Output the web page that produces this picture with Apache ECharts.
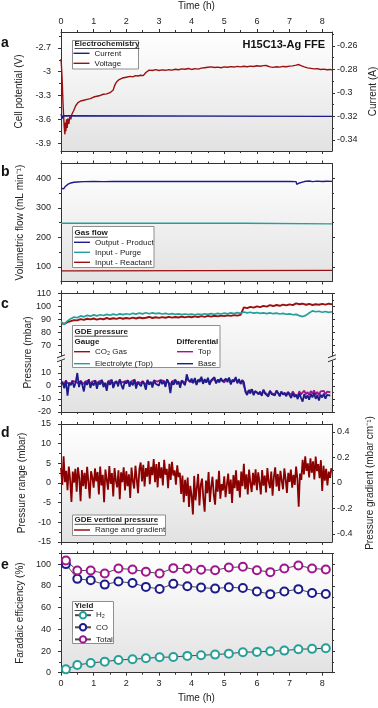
<!DOCTYPE html>
<html><head><meta charset="utf-8">
<script src="https://cdn.jsdelivr.net/npm/echarts@6/dist/echarts.min.js"></script>
<style>html,body{margin:0;padding:0;background:#fff}#c{width:378px;height:708px}</style>
</head><body><div id="c"></div>
<script>
// ---------------- DATA ----------------
const timeMajor = [0,1,2,3,4,5,6,7,8];
const timeMinor = [0.5,1.5,2.5,3.5,4.5,5.5,6.5,7.5];

// (a) Electrochemistry
const voltage = [[0,-2.84],[0.02,-2.97],[0.04,-3.15],[0.06,-3.38],[0.08,-3.56],[0.1,-3.7],[0.12,-3.79],[0.135,-3.64],[0.15,-3.75],[0.17,-3.6],[0.19,-3.71],[0.21,-3.59],[0.24,-3.66],[0.27,-3.57],[0.3,-3.6],[0.33,-3.54],[0.36,-3.55],[0.39,-3.49],[0.42,-3.47],[0.45,-3.43],[0.48,-3.42],[0.52,-3.39],[0.56,-3.4],[0.6,-3.37],[0.65,-3.385],[0.7,-3.36],[0.75,-3.37],[0.8,-3.35],[0.85,-3.36],[0.9,-3.34],[0.95,-3.35],[1.0,-3.32],[1.05,-3.335],[1.1,-3.31],[1.15,-3.325],[1.2,-3.3],[1.25,-3.31],[1.3,-3.285],[1.35,-3.27],[1.4,-3.28],[1.45,-3.255],[1.5,-3.265],[1.55,-3.24],[1.6,-3.23],[1.63,-3.19],[1.66,-3.16],[1.7,-3.13],[1.74,-3.12],[1.78,-3.1],[1.82,-3.095],[1.88,-3.08],[1.94,-3.085],[2.0,-3.07],[2.06,-3.075],[2.12,-3.06],[2.2,-3.065],[2.28,-3.05],[2.36,-3.055],[2.44,-3.045],[2.52,-3.05],[2.58,-3.04],[2.6,-3.01],[2.63,-2.985],[2.7,-2.98],[2.8,-2.985],[2.9,-2.975],[3.0,-2.985],[3.1,-2.978],[3.2,-2.983],[3.3,-2.975],[3.4,-2.98],[3.5,-2.97],[3.6,-2.976],[3.7,-2.965],[3.8,-2.97],[3.9,-2.96],[4.0,-2.972],[4.1,-2.962],[4.2,-2.968],[4.3,-2.955],[4.4,-2.95],[4.5,-2.945],[4.6,-2.94],[4.7,-2.948],[4.8,-2.943],[4.9,-2.95],[5.0,-2.94],[5.1,-2.945],[5.2,-2.937],[5.3,-2.942],[5.4,-2.934],[5.5,-2.94],[5.6,-2.932],[5.7,-2.938],[5.8,-2.93],[5.9,-2.935],[6.0,-2.925],[6.1,-2.932],[6.2,-2.924],[6.28,-2.922],[6.32,-2.945],[6.4,-2.94],[6.5,-2.946],[6.6,-2.938],[6.7,-2.943],[6.8,-2.934],[6.9,-2.938],[7.0,-2.93],[7.1,-2.927],[7.2,-2.918],[7.28,-2.91],[7.35,-2.925],[7.45,-2.94],[7.55,-2.952],[7.65,-2.958],[7.75,-2.965],[7.85,-2.962],[7.95,-2.972],[8.05,-2.968],[8.15,-2.976],[8.25,-2.972],[8.3,-2.98]];
const current = [[0,-0.318],[0.03,-0.322],[0.06,-0.3195],[0.09,-0.32],[8.3,-0.32]];

// (b) Gas flow
const outputProduct = [[0,366],[0.03,361],[0.05,367],[0.08,364],[0.12,371],[0.17,376],[0.22,380],[0.3,384],[0.4,386.5],[0.5,387.5],[0.7,388.5],[1.0,389],[1.3,388.7],[1.6,389.2],[1.9,388.8],[2.2,389.3],[2.5,388.9],[2.8,389.4],[3.08,389],[3.1,386.5],[3.12,389.3],[3.7,389.1],[4.0,389.5],[4.3,389],[4.6,389.4],[4.9,389.1],[5.2,389.3],[5.5,389],[5.8,389.2],[6.1,388.9],[6.4,389.2],[6.7,389],[7.0,389.1],[7.2,388.6],[7.22,379],[7.26,381],[7.3,384],[7.35,387],[7.45,388.8],[7.6,390.5],[7.7,388.6],[7.85,390.2],[8.0,388.9],[8.15,390],[8.3,389.3]];
const inputPurge = [[0,247.5],[5.62,247.5],[5.65,245.5],[8.3,245.5]];
const inputReactant = [[0,86],[0.5,86],[0.52,87.5],[8.3,87.5]];

// (c) GDE pressure, gauge (step 0.1 h)
const gaugeStep = 0.1;
const co2Gas = [
 87.0,86.5,87.8,88.6,89.4,89.2,90.1,89.6,90.4,89.9,
 90.6,89.8,90.5,90.0,91.0,90.2,90.8,90.3,91.1,90.4,
 91.0,90.5,91.3,90.6,91.4,90.8,91.2,91.8,91.0,91.6,
 91.1,91.7,91.2,91.9,91.3,91.8,91.4,92.0,91.5,92.1,
 91.6,92.3,91.8,92.4,91.9,92.6,92.0,92.7,92.2,92.8,
 92.4,93.0,92.6,93.2,92.8,93.4,99.2,98.6,99.6,99.0,
 100.0,99.4,100.3,99.8,100.9,100.2,101.0,100.4,101.3,100.7,
 101.5,100.9,102.3,101.6,102.0,101.2,101.8,101.0,101.6,101.2,
 101.9,101.3,102.0,101.5];
const electrolyteTop = [
 88.2,86.0,88.8,90.5,91.8,91.2,92.6,91.9,93.0,92.4,
 93.4,92.6,93.5,92.9,93.8,93.1,94.0,93.3,94.2,93.6,
 94.3,93.7,94.6,94.0,94.8,94.2,95.0,94.3,94.9,94.4,
 94.8,94.1,94.6,93.9,94.4,93.8,94.2,93.6,94.1,93.7,
 94.0,93.5,94.1,93.6,94.3,93.8,94.4,93.9,94.6,94.1,
 94.7,94.2,94.9,94.4,95.1,94.6,95.6,95.0,95.4,94.8,
 95.2,94.6,95.0,94.4,94.9,94.3,94.7,94.1,94.6,93.9,
 94.2,93.5,93.8,92.8,92.1,93.0,94.8,96.5,95.8,96.2,
 95.4,96.0,95.3,95.8];

// (c) GDE pressure, differential (step 0.05 h)
const diffStep = 0.05;
const diffTop = [
 2.5,3.8,1.0,4.3,2.2,3.5,1.8,4.0,2.6,3.2,4.6,1.9,3.9,2.7,1.5,3.6,2.4,4.2,1.7,3.3,
 2.8,4.1,1.6,3.4,2.5,4.4,1.9,3.1,0.8,3.8,2.3,4.5,1.4,3.0,3.7,2.0,4.6,2.6,1.2,3.5,
 3.0,4.2,1.9,3.6,2.4,4.7,1.5,3.3,4.0,2.2,3.8,2.7,0.9,4.3,2.5,3.5,1.8,4.4,2.9,3.4,
 2.2,4.5,3.0,3.9,1.6,4.8,2.8,0.5,3.6,2.4,4.6,2.9,3.8,1.3,4.2,3.1,2.3,5.6,4.7,3.4,
 4.5,2.8,5.2,1.5,4.2,3.6,5.9,2.1,4.6,3.0,5.4,1.8,3.9,3.3,5.6,2.4,4.4,3.2,5.1,3.7,
 2.6,4.9,3.4,5.3,1.9,4.2,3.5,5.6,2.7,4.7,2.2,4.1,3.1,-3.8,-5.9,-3.5,-5.0,-2.9,-6.2,-4.1,
 -3.5,-5.6,-4.3,-6.6,-3.2,-5.2,-4.6,-7.0,-3.9,-5.5,-4.8,-6.4,-3.7,-5.1,-6.9,-4.4,-6.0,-4.9,-6.8,-4.6,
 -4.8,-7.0,-4.2,-6.3,-5.3,-7.6,-4.0,-6.5,-8.0,-3.6,-6.4,-4.7,-6.9,-3.9,-5.8,-3.4,-6.6,-4.5,-7.1,-4.2,
 -5.6,-3.8,-6.3,-4.4,-5.5,-4.8];
const diffBase = [
 1.5,3.2,-1.8,4.1,-7.5,2.6,0.6,3.9,-1.2,2.8,10.0,-0.8,4.0,1.1,-4.2,3.3,0.8,5.2,-1.5,2.7,
 0.4,4.3,-2.1,3.0,1.2,4.6,-0.9,2.5,-3.8,3.7,0.9,4.8,-1.6,2.2,3.9,-0.3,5.1,0.7,-2.5,3.4,
 1.8,4.5,-0.6,3.1,0.5,5.0,-1.9,2.8,4.2,-0.2,3.6,1.4,-2.8,4.7,0.9,3.3,-1.1,4.4,1.7,3.0,
 0.3,4.6,1.5,3.8,-0.7,5.2,2.0,-5.5,3.5,0.9,4.9,1.2,3.7,-1.4,4.3,2.2,0.6,9.0,4.8,3.1,
 5.7,2.1,6.2,0.8,4.9,3.0,7.1,1.6,5.3,2.6,6.4,0.9,4.4,3.5,6.8,1.9,5.0,2.7,6.0,3.3,
 1.8,5.6,2.9,6.5,1.2,4.8,3.2,6.9,2.0,5.4,1.5,4.6,3.0,-4.6,-6.9,-3.2,-5.8,-2.4,-7.1,-4.0,
 -3.1,-6.4,-4.2,-7.6,-2.8,-5.9,-4.5,-8.1,-3.6,-6.2,-4.9,-7.3,-3.4,-5.6,-8.0,-4.3,-6.7,-5.1,-7.9,-4.8,
 -6.0,-9.3,-5.2,-8.4,-6.8,-10.1,-5.7,-8.9,-12.0,-6.4,-9.6,-7.2,-10.5,-6.1,-8.7,-5.5,-9.9,-7.0,-11.2,-6.6,
 -8.8,-5.9,-9.7,-6.9,-8.2,-7.4];

// (d) GDE vertical pressure (step 0.04 h)
const rangeStep = 0.04;
const pressureRange = [
 3.8,-0.5,6.8,0.2,3.1,-1.8,4.2,0.8,-4.8,2.9,0.1,3.6,-2.2,4.0,1.2,-4.6,3.3,-0.8,2.6,-1.5,4.1,0.3,-3.9,3.0,1.4,
 -1.2,3.7,0.4,2.8,-2.9,4.2,-0.6,2.1,-4.9,3.4,0.9,-1.7,4.3,-0.2,2.5,-3.4,3.8,0.6,-1.1,3.2,-4.1,2.7,0.2,4.0,-1.9,
 3.0,-0.8,2.2,-3.8,3.9,0.5,-1.4,4.4,1.0,-2.6,3.5,5.2,0.4,4.6,-0.9,3.8,1.6,5.6,-0.3,4.1,2.0,6.1,0.2,4.8,-1.1,
 5.3,1.2,4.0,-0.6,5.9,2.1,3.6,-1.3,4.9,0.8,5.4,1.9,3.2,-0.4,4.5,1.5,2.6,-2.8,1.9,-4.9,0.8,-3.3,1.4,-6.1,-0.7,
 -3.2,-8.0,1.8,-4.4,-1.2,2.3,-5.7,-0.5,1.1,-3.9,-7.3,0.6,-2.6,2.8,-4.8,-0.9,1.6,-3.1,-5.5,0.9,-2.2,3.1,-4.0,-0.3,-1.9,
 1.7,-3.6,-0.4,2.4,-2.8,0.9,-5.1,2.0,-1.3,3.2,-2.0,0.7,-3.7,2.9,-0.8,4.9,-1.6,2.2,-2.9,3.4,0.1,-2.3,2.6,-0.6,3.5,
 -1.8,2.7,0.2,-2.9,3.3,-0.7,1.9,-2.4,3.8,0.4,-1.3,2.9,-3.2,1.6,4.0,-0.9,2.3,-2.0,3.1,0.6,-1.6,3.7,1.0,-2.5,2.6,
 0.3,3.4,-1.2,2.1,-0.5,4.2,1.1,-6.0,2.4,0.8,5.9,2.2,6.8,3.1,5.0,1.4,6.3,2.6,5.5,0.9,6.7,3.0,4.8,1.2,5.8,
 -2.0,4.4,0.6,3.6,-0.6,2.9,1.3,3.8];

// (e) Faradaic efficiency
const yieldTime  = [0.15,0.5,0.91,1.34,1.76,2.19,2.6,3.02,3.44,3.87,4.29,4.72,5.14,5.57,6.0,6.41,6.84,7.27,7.69,8.11];
const yieldH2    = [3.1,7.1,9.0,10.2,11.8,12.4,13.3,14.2,14.5,15.5,16.1,16.7,17.6,18.9,19.2,19.8,20.4,21.7,22.0,22.6];
const yieldCO    = [100.2,86.6,85.3,81.3,84.1,82.7,79.2,77.3,82.0,79.8,78.6,77.6,78.9,78.1,75.0,72.5,75.0,77.1,73.5,72.6];
const yieldTotal = [103.6,94.3,94.3,91.6,96.2,95.3,93.1,91.6,96.5,95.9,95.0,94.6,97.1,97.7,94.6,92.8,96.2,99.0,96.2,95.3];

// ---------------- HELPERS ----------------
const FONT = '"Liberation Sans", Arial, Helvetica, sans-serif';
const AX = '#333333', TXT = '#222222';
const withTime = (vals, step) => vals.map((v, i) => [+(i * step).toFixed(2), v]);
const pairs = (xs, ys) => xs.map((x, i) => [x, ys[i]]);

const G_LEFT = 61, G_W = 271;
const panels = [
  {top:32,    h:119,   bg:['#ffffff','#e2e2e2'],
   yl:{min:-4, max:-2.5, major:[-3.9,-3.6,-3.3,-3,-2.7], minor:[-3.75,-3.45,-3.15,-2.85,-2.55], name:'Cell potential (V)'},
   yr:{min:-0.3495, max:-0.2482, major:[-0.34,-0.32,-0.3,-0.28,-0.26], minor:[-0.33,-0.31,-0.29,-0.27,-0.25], labels:true, name:'Current (A)'},
   topLabels:true},
  {top:163.5, h:118,   bg:['#ffffff','#e2e2e2'],
   yl:{min:50, max:450, major:[100,200,300,400], minor:[150,250,350], name:'Volumetric flow (mL min\u207B\u00B9)'},
   yr:{min:50, max:450, major:[100,200,300,400], minor:[150,250,350]}},
  {top:293.3, h:65,    bg:['#ffffff','#f0f0f0'], noBottom:true,
   yl:{min:60, max:110, major:[70,80,90,100,110], minor:[65,75,85,95,105]},
   yr:{min:60, max:110, major:[70,80,90,100,110], minor:[65,75,85,95,105]}},
  {top:358.3, h:53.7,  bg:['#f0f0f0','#e2e2e2'], noTop:true,
   yl:{min:-20, max:21.3, major:[-20,-10,0,10], minor:[-15,-5,5,15]},
   yr:{min:-20, max:21.3, major:[-20,-10,0,10], minor:[-15,-5,5,15]}},
  {top:424,   h:118,   bg:['#ffffff','#e2e2e2'],
   yl:{min:-15, max:15, major:[-15,-10,-5,0,5,10,15], minor:[-12.5,-7.5,-2.5,2.5,7.5,12.5], name:'Pressure range (mbar)'},
   yr:{min:-0.4627, max:0.4627, major:[-0.4,-0.2,0,0.2,0.4], minor:[-0.3,-0.1,0.1,0.3], labels:true, name:'Pressure gradient (mbar cm\u207B\u00B9)'}},
  {top:553.5, h:119.2, bg:['#ffffff','#e2e2e2'],
   yl:{min:0, max:110, major:[0,20,40,60,80,100], minor:[10,30,50,70,90,110], name:'Faradaic efficiency (%)'},
   yr:{min:0, max:110, major:[0,20,40,60,80,100], minor:[10,30,50,70,90,110]},
   bottomLabels:true}
];

const grids = [], xAxes = [], yAxes = [];
const xMain = [], yLeft = [], yRight = [];
const nameStyle = {fontSize:10, color:TXT, fontFamily:FONT};

function xAx(gi, pos, ticks, len, line, showTicks, labels, name) {
  return {
    type:'value', gridIndex:gi, position:pos, min:0, max:8.3,
    axisLine:{show:line, onZero:false, lineStyle:{color:AX, width:1}},
    axisTick:{show:showTicks, inside:false, length:len, customValues:ticks, lineStyle:{color:AX, width:1}},
    axisLabel:{show:labels, customValues:ticks, fontSize:9, color:TXT, fontFamily:FONT, margin:6},
    splitLine:{show:false}, minorTick:{show:false},
    name:name || '', nameLocation:'middle', nameGap:21, nameTextStyle:nameStyle
  };
}
function yAx(gi, pos, cfg, ticks, len, line, labels, name) {
  return {
    type:'value', gridIndex:gi, position:pos, min:cfg.min, max:cfg.max,
    axisLine:{show:line, onZero:false, lineStyle:{color:AX, width:1}},
    axisTick:{show:true, inside:false, length:len, customValues:ticks, lineStyle:{color:AX, width:1}},
    axisLabel:{show:labels, customValues:ticks, fontSize:9, color:TXT, fontFamily:FONT, margin: pos === 'left' ? 10 : 5},
    splitLine:{show:false}, minorTick:{show:false},
    name:name || '', nameLocation:'middle', nameGap: pos === 'left' ? 27 : 33, nameRotate:90,
    nameTextStyle:nameStyle
  };
}

panels.forEach((p, gi) => {
  grids.push({left:G_LEFT, width:G_W, top:p.top, height:p.h, show:true, borderWidth:0,
    containLabel:false, outerBoundsMode:'none',
    backgroundColor:new echarts.graphic.LinearGradient(0,0,0,1,[{offset:0,color:p.bg[0]},{offset:1,color:p.bg[1]}])});
  xMain[gi] = xAxes.length;
  xAxes.push(xAx(gi,'bottom',timeMajor,3,!p.noBottom,!p.noBottom,!!p.bottomLabels,p.bottomLabels?'Time (h)':''));
  xAxes.push(xAx(gi,'top',timeMajor,3,!p.noTop,!p.noTop,!!p.topLabels,p.topLabels?'Time (h)':''));
  xAxes.push(xAx(gi,'bottom',timeMinor,2,false,!p.noBottom,false,''));
  xAxes.push(xAx(gi,'top',timeMinor,2,false,!p.noTop,false,''));
  yLeft[gi] = yAxes.length;
  yAxes.push(yAx(gi,'left',p.yl,p.yl.major,3,true,true,p.yl.name));
  yRight[gi] = yAxes.length;
  yAxes.push(yAx(gi,'right',p.yr,p.yr.major,3,true,!!p.yr.labels,p.yr.name));
  yAxes.push(yAx(gi,'left',p.yl,p.yl.minor,2,false,false,''));
  yAxes.push(yAx(gi,'right',p.yr,p.yr.minor,2,false,false,''));
});

function line(name, data, gi, right, color, width) {
  return {name, type:'line', data, xAxisIndex:xMain[gi], yAxisIndex:right ? yRight[gi] : yLeft[gi],
    symbol:'none', showSymbol:false, animation:false, clip:true,
    lineStyle:{color, width:width || 1}, itemStyle:{color}};
}
function pts(name, xs, ys, gi, color) {
  return {name, type:'line', data:pairs(xs, ys), xAxisIndex:xMain[gi], yAxisIndex:yLeft[gi],
    symbol:'emptyCircle', symbolSize:8, showSymbol:true, animation:false, clip:false,
    lineStyle:{color:'#4a4a4a', width:1}, itemStyle:{color, borderColor:color, borderWidth:1.6}, z:3};
}

const C_RED = '#9a1010', C_NAVY = '#1c1c8c', C_TEAL = '#24a09b', C_MAG = '#a0148e';

const series = [
  line('Voltage', voltage, 0, false, C_RED, 1.4),
  line('Current', current, 0, true, C_NAVY, 1.3),
  line('Input - Reactant', inputReactant, 1, false, C_RED, 1.3),
  line('Input - Purge', inputPurge, 1, false, C_TEAL, 1.3),
  line('Output - Product', outputProduct, 1, false, C_NAVY, 1.4),
  line('CO\u2082 Gas', withTime(co2Gas, gaugeStep), 2, false, C_RED, 1.9),
  line('Electrolyte (Top)', withTime(electrolyteTop, gaugeStep), 2, false, C_TEAL, 1.7),
  line('Top', withTime(diffTop, diffStep), 3, false, C_MAG, 1.8),
  line('Base', withTime(diffBase, diffStep), 3, false, C_NAVY, 1.8),
  line('Range and gradient', withTime(pressureRange, rangeStep), 4, false, '#8b0000', 1.8),
  pts('H\u2082', yieldTime, yieldH2, 5, C_TEAL),
  pts('CO', yieldTime, yieldCO, 5, C_NAVY),
  pts('Total', yieldTime, yieldTotal, 5, C_MAG)
];

function legend(names, left, top, gap, lineIcon) {
  return {show:true, orient:'vertical', left, top,
    data: lineIcon ? names.map(n => ({name:n, icon:'rect'})) : names,
    itemWidth:16, itemHeight: lineIcon ? 1.4 : 8, itemGap:gap,
    padding:0, selectedMode:false, z:20,
    textStyle:{fontSize:8, lineHeight:8, color:TXT, fontFamily:FONT}};
}
const legends = [
  legend(['Current','Voltage'], 73.5, 49.3, 2, true),
  legend(['Output - Product','Input - Purge','Input - Reactant'], 74, 238.3, 2, true),
  legend(['CO\u2082 Gas','Electrolyte (Top)'], 74, 347.7, 4, true),
  legend(['Top','Base'], 177, 347.7, 4, true),
  legend(['Range and gradient'], 74, 526, 2, true),
  legend(['H\u2082','CO','Total'], 74, 611, 3.7, false)
];

// text measuring for title underlines
const mctx = document.createElement('canvas').getContext('2d');
const BOLD8 = 'bold 8px ' + FONT;
function measure(t, font) { mctx.font = font; return mctx.measureText(t).width; }

const graphic = [];
function box(x, y, w, h) {
  graphic.push({type:'rect', z:5, shape:{x, y, width:w, height:h}, style:{fill:'#ffffff', stroke:'#8f8f8f', lineWidth:1}});
}
function title(t, x, y, underline) {
  graphic.push({type:'text', z:6, x, y, style:{text:t, font:BOLD8, fill:TXT, align:'left', verticalAlign:'middle'}});
  if (underline) {
    const w = measure(t, BOLD8);
    graphic.push({type:'line', z:6, shape:{x1:x, y1:y + 4.5, x2:x + w, y2:y + 4.5}, style:{stroke:TXT, lineWidth:0.8}});
  }
}
box(72.5, 40.5, 66, 28.5);      title('Electrochemistry', 74.5, 44, true);
box(72.5, 226.5, 81.5, 41);     title('Gas flow', 74.5, 232.7, true);
box(72.5, 325.5, 147.5, 42);    title('GDE pressure', 74.5, 331.7, true);
title('Gauge', 74.5, 341.5, false); title('Differential', 176.5, 341.5, false);
box(72.5, 515, 93, 20.5);       title('GDE vertical pressure', 74.5, 519.8, true);
box(72.5, 601.5, 41, 42);       title('Yield', 74.5, 606, true);

// panel letters
[['a',43],['b',172],['c',304],['d',433],['e',565]].forEach(([t, y]) => {
  graphic.push({type:'text', z:6, x:1, y, style:{text:t, font:'bold 14px ' + FONT, fill:'#111', align:'left', verticalAlign:'middle'}});
});
graphic.push({type:'text', z:6, x:325, y:45, style:{text:'H15C13-Ag FFE', font:'bold 11px ' + FONT, fill:'#111', align:'right', verticalAlign:'middle'}});
graphic.push({type:'text', z:6, x:28, y:352.5, rotation:Math.PI / 2,
  style:{text:'Pressure (mbar)', font:'10px ' + FONT, fill:TXT, align:'center', verticalAlign:'middle'}});
// axis break marks for panel c
[G_LEFT, G_LEFT + G_W].forEach(x => {
  const y = 358.3;
  graphic.push({type:'rect', z:7, shape:{x:x - 4, y:y - 2, width:8, height:4}, style:{fill:'#f0f0f0'}});
  graphic.push({type:'line', z:7, shape:{x1:x - 4, y1:y - 0.5, x2:x + 4, y2:y - 3.5}, style:{stroke:AX, lineWidth:1}});
  graphic.push({type:'line', z:7, shape:{x1:x - 4, y1:y + 3.5, x2:x + 4, y2:y + 0.5}, style:{stroke:AX, lineWidth:1}});
});

const chart = echarts.init(document.getElementById('c'), null, {renderer:'canvas'});
chart.setOption({
  animation:false, backgroundColor:'#ffffff',
  textStyle:{fontFamily:FONT},
  grid:grids, xAxis:xAxes, yAxis:yAxes, series, legend:legends, graphic
});
</script></body></html>
